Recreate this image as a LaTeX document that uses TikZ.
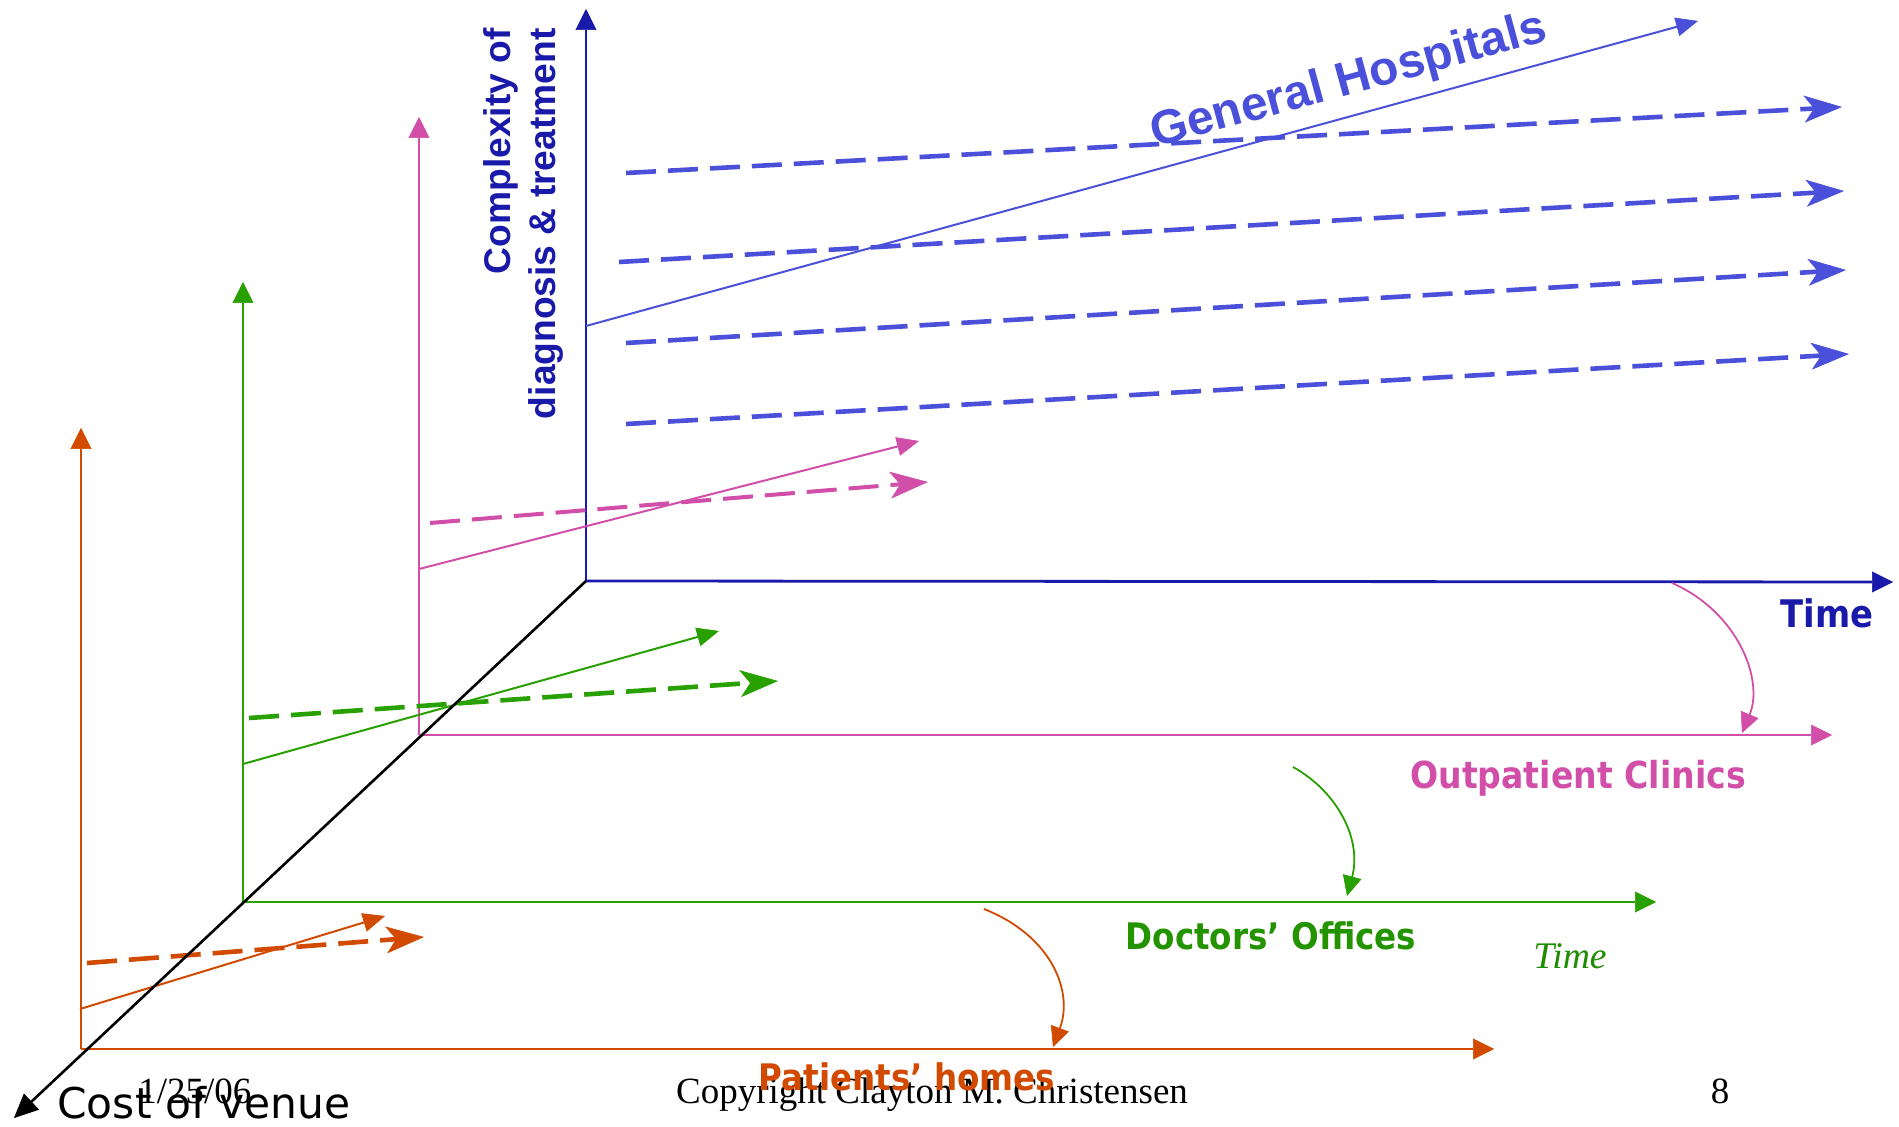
\documentclass[tikz,border=0pt]{standalone}
\usepackage{fontspec}
\setmainfont{Liberation Serif}
\newfontfamily\headfont{Liberation Sans}
\newfontfamily\tahomafont[FakeStretch=0.89]{DejaVu Sans}
\newfontfamily\venuefont{DejaVu Sans}
\usetikzlibrary{arrows.meta}

\definecolor{axisblue}{HTML}{1A1AAA}
\definecolor{hospblue}{HTML}{4A50DA}
\definecolor{clinicpink}{HTML}{D24FA9}
\definecolor{officegreen}{HTML}{27A000}
\definecolor{labelgreen}{HTML}{239300}
\definecolor{homeorange}{HTML}{D24A00}
\definecolor{timegreen}{HTML}{1E8C00}

\tikzset{
  axis/.style={line width=1.4pt, -{Triangle[length=10.5pt,width=10.5pt,line width=0.3pt]}},
  trend/.style={line width=1pt, -{Triangle[length=11pt,width=9.5pt,line width=0.3pt]}},
  forecast/.style={line width=2.3pt, dash pattern=on 15pt off 6pt,
    -{Stealth[length=19pt,width=13.5pt,inset=5pt,line width=0.3pt]}},
  shiftarrow/.style={line width=0.9pt, -{Triangle[length=10pt,width=9.5pt,line width=0.3pt]}},
  venuelabel/.style={inner sep=0pt, font=\tahomafont\bfseries\fontsize{18.3}{21}\selectfont, anchor=base},
  footer/.style={inner sep=0pt, font=\rmfamily\fontsize{18.5}{21}\selectfont, anchor=base}
}

\begin{document}
\begin{tikzpicture}[x=0.5pt,y=-0.5pt]
\useasboundingbox (0,0) rectangle (1899,1127);

% ---- axis origins and ends ----
\coordinate (ob) at (586,581);  \coordinate (btop) at (586,9);   \coordinate (bright) at (1893,582);
\coordinate (op) at (419,735);  \coordinate (ptop) at (419,117); \coordinate (pright) at (1832,735);
\coordinate (og) at (243,902);  \coordinate (gtop) at (243,282); \coordinate (gright) at (1656,902);
\coordinate (oo) at (81,1049);  \coordinate (otop) at (81,428);  \coordinate (oright) at (1494,1049);
\coordinate (venuetip) at (14,1118);

% ---- footer ----
\node[footer, anchor=base west] (date) at (138,1103) {1/25/06};
\node[footer] (copy) at (932,1103) {Copyright Clayton M. Christensen};
\node[footer] (page) at (1720,1103) {8};

% ---- General hospitals ----
\draw[axis, axisblue] (ob) -- (btop);
\draw[axis, axisblue] (ob) -- (bright);
\coordinate (bs0) at (586,326);  \coordinate (bs1) at (1698,21);
\draw[trend, hospblue] (bs0) -- (bs1);
\coordinate (bd0a) at (626,173); \coordinate (bd1a) at (1842,107);
\coordinate (bd0b) at (619,262); \coordinate (bd1b) at (1844,191);
\coordinate (bd0c) at (626,343); \coordinate (bd1c) at (1846,270);
\coordinate (bd0d) at (626,424); \coordinate (bd1d) at (1849,354);
\draw[forecast, hospblue] (bd0a) -- (bd1a);
\draw[forecast, hospblue] (bd0b) -- (bd1b);
\draw[forecast, hospblue] (bd0c) -- (bd1c);
\draw[forecast, hospblue] (bd0d) -- (bd1d);

% ---- Outpatient clinics ----
\draw[axis, clinicpink] (op) -- (ptop);
\draw[axis, clinicpink] (op) -- (pright);
\coordinate (ps0) at (419,569); \coordinate (ps1) at (919,441);
\draw[trend, clinicpink] (ps0) -- (ps1);
\coordinate (pd0) at (430,523); \coordinate (pd1) at (928,482);
\draw[forecast, clinicpink, line width=2pt] (pd0) -- (pd1);

% ---- Doctors' offices ----
\draw[axis, officegreen] (og) -- (gtop);
\draw[axis, officegreen] (og) -- (gright);
\coordinate (gs0) at (243,764); \coordinate (gs1) at (719,631);
\draw[trend, officegreen] (gs0) -- (gs1);
\coordinate (gd0) at (249,718); \coordinate (gd1) at (778,681);
\draw[forecast, officegreen] (gd0) -- (gd1);

% ---- Patients' homes ----
\draw[axis, homeorange] (oo) -- (otop);
\draw[axis, homeorange] (oo) -- (oright);
\coordinate (os0) at (80,1009); \coordinate (os1) at (385,916);
\draw[trend, homeorange] (os0) -- (os1);
\coordinate (od0) at (87,963); \coordinate (od1) at (424,937);
\draw[forecast, homeorange] (od0) -- (od1);

% ---- cost axis ----
\draw[line width=1.3pt, -{Triangle[length=12pt,width=11pt,line width=0.3pt]}] (ob) -- (venuetip);

% ---- migration between venues ----
\coordinate (m1a) at (1672,583); \coordinate (m1b) at (1742,733);
\draw[shiftarrow, clinicpink] (m1a) .. controls (1738,612) and (1764,680) .. (m1b);
\coordinate (m2a) at (1293,767); \coordinate (m2b) at (1347,896);
\draw[shiftarrow, officegreen] (m2a) .. controls (1338,792) and (1362,840) .. (m2b);
\coordinate (m3a) at (984,909); \coordinate (m3b) at (1053,1047);
\draw[shiftarrow, homeorange] (m3a) .. controls (1050,935) and (1074,990) .. (m3b);

% ---- labels ----
\node[inner sep=0pt, anchor=base, rotate=15.3, text=hospblue,
      font=\headfont\bfseries\fontsize{24}{28}\selectfont] (hosp) at (1352,94) {General Hospitals};
\node[inner sep=0pt, anchor=east, rotate=90, align=right, text=axisblue,
      font=\headfont\bfseries\fontsize{18.6}{22.5}\selectfont] (complexity) at (523,28)
      {Complexity of\\diagnosis \& treatment};
\node[venuelabel, text=axisblue, font=\tahomafont\bfseries\fontsize{19}{22}\selectfont] (timeb) at (1827,628) {Time};
\node[venuelabel, text=clinicpink, font=\tahomafont\bfseries\fontsize{18.6}{21}\selectfont] (clinics) at (1578,788) {Outpatient Clinics};
\node[venuelabel, text=labelgreen] (offices) at (1271,949) {Doctors’ Offices};
\node[venuelabel, text=homeorange] (homes) at (907,1090) {Patients’ homes};
\node[inner sep=0pt, anchor=base, text=timegreen,
      font=\rmfamily\itshape\fontsize{18.8}{21}\selectfont] (timeg) at (1570,968) {Time};
\node[inner sep=0pt, anchor=base west,
      font=\venuefont\fontsize{21.2}{24}\selectfont] (venue) at (57,1118) {Cost of venue};
\end{tikzpicture}
\end{document}
